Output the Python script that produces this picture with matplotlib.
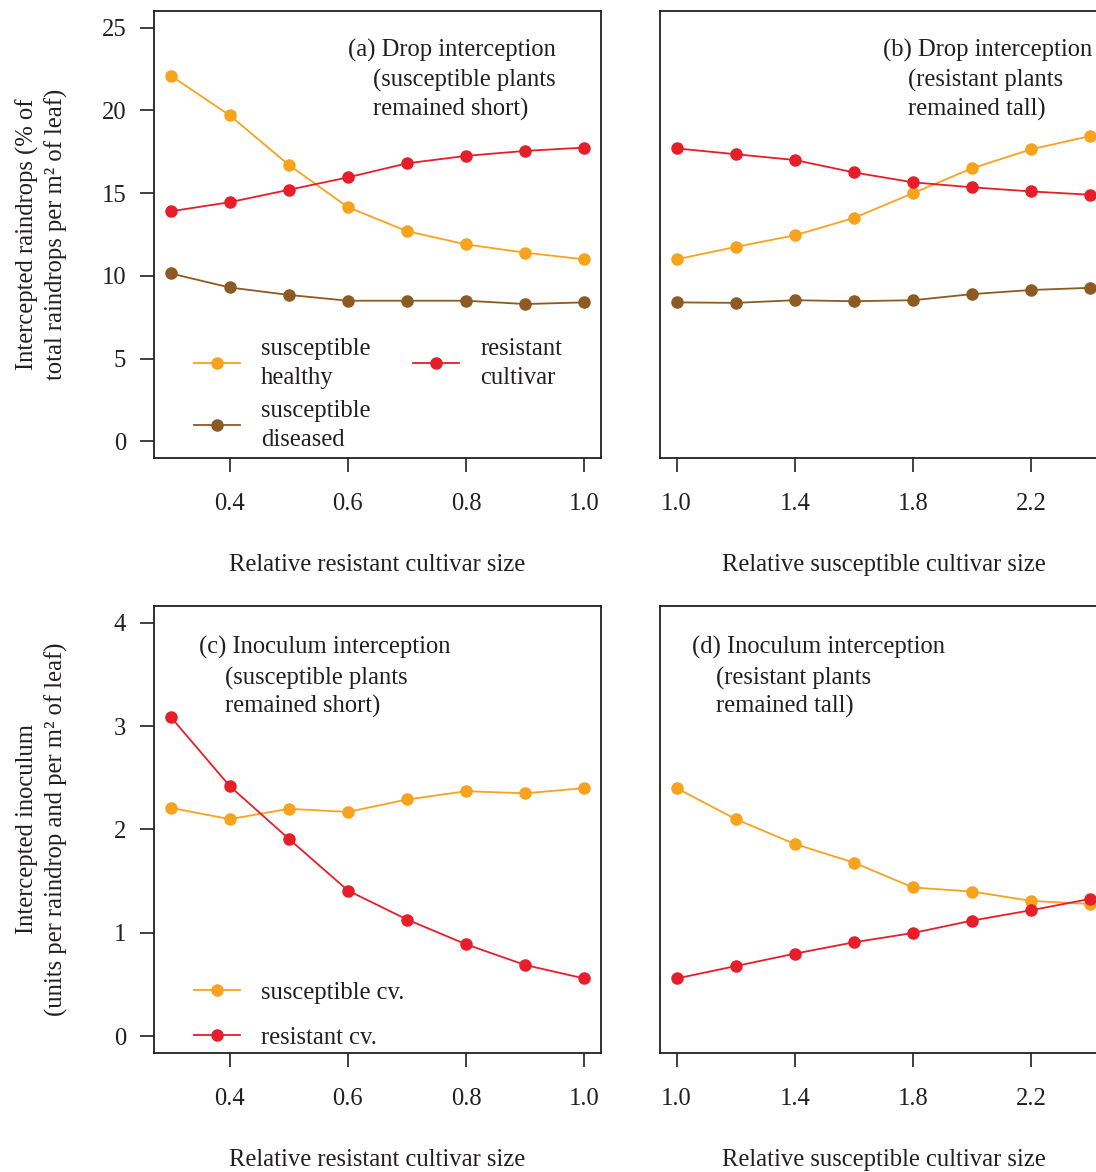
import matplotlib
matplotlib.use("Agg")
import matplotlib.pyplot as plt

plt.rcParams['font.family'] = ['Liberation Serif', 'DejaVu Serif']
FS = 17.7
plt.rcParams['font.size'] = FS
TXT = '#231f20'

# ---- data ----
x_res = [0.3, 0.4, 0.5, 0.6, 0.7, 0.8, 0.9, 1.0]
x_sus = [1.0, 1.2, 1.4, 1.6, 1.8, 2.0, 2.2, 2.4]

a_healthy = [22.1, 19.7, 16.7, 14.15, 12.7, 11.9, 11.4, 11.0]
a_resist = [13.9, 14.45, 15.2, 15.95, 16.8, 17.25, 17.55, 17.75]
a_diseased = [10.15, 9.3, 8.85, 8.5, 8.5, 8.5, 8.3, 8.4]

b_healthy = [11.0, 11.75, 12.45, 13.5, 15.0, 16.5, 17.65, 18.45]
b_resist = [17.7, 17.35, 17.0, 16.25, 15.65, 15.35, 15.1, 14.9]
b_diseased = [8.4, 8.37, 8.53, 8.47, 8.53, 8.9, 9.15, 9.28]

c_sus = [2.21, 2.10, 2.20, 2.17, 2.29, 2.37, 2.35, 2.40]
c_res = [3.09, 2.42, 1.91, 1.41, 1.13, 0.89, 0.69, 0.56]

d_sus = [2.40, 2.10, 1.86, 1.68, 1.44, 1.40, 1.31, 1.28]
d_res = [0.56, 0.68, 0.80, 0.91, 1.00, 1.12, 1.22, 1.33]

ticks_res = [0.4, 0.6, 0.8, 1.0]
ticks_sus = [1.0, 1.4, 1.8, 2.2]
yticks_top = [0, 5, 10, 15, 20, 25]
yticks_bot = [0, 1, 2, 3, 4]

C_OR = '#f8a31d'
C_RED = '#e61e2a'
C_BR = '#8c5a22'

W, H = 1096, 1172
fig = plt.figure(figsize=(W / 100, H / 100), dpi=100)


def add_ax(x0, y0, x1, y1):
    return fig.add_axes([x0 / W, 1 - y1 / H, (x1 - x0) / W, (y1 - y0) / H])


axa = add_ax(154, 11, 601, 458)
axb = add_ax(660, 11, 1107, 458)
axc = add_ax(154, 606, 601, 1053)
axd = add_ax(660, 606, 1107, 1053)

kw = dict(marker='o', markersize=8, lw=1.3)


def style(ax, xt, xlim, ylim, yt=None):
    ax.set_xlim(*xlim)
    ax.set_ylim(*ylim)
    ax.set_xticks(xt)
    ax.set_xticklabels([f'{v:.1f}' for v in xt])
    for s in ax.spines.values():
        s.set_linewidth(1.3)
        s.set_color(TXT)
    ax.tick_params(axis='x', length=10, width=1.2, pad=15, colors=TXT, labelsize=FS)
    if yt is not None:
        ax.set_yticks(yt)
        ax.set_yticklabels([str(v) for v in yt])
        ax.tick_params(axis='y', length=10, width=1.2, pad=10, colors=TXT, labelsize=FS)
    else:
        ax.set_yticks([])


# panel a
axa.plot(x_res, a_healthy, color=C_OR, label='susceptible\nhealthy', **kw)
axa.plot(x_res, a_diseased, color=C_BR, label='susceptible\ndiseased', **kw)
axa.plot(x_res, a_resist, color=C_RED, label='resistant\ncultivar', **kw)
style(axa, ticks_res, (0.272, 1.028), (-1, 26), yticks_top)

# panel b
axb.plot(x_sus, b_healthy, color=C_OR, **kw)
axb.plot(x_sus, b_diseased, color=C_BR, **kw)
axb.plot(x_sus, b_resist, color=C_RED, **kw)
style(axb, ticks_sus, (0.944, 2.456), (-1, 26))

# panel c
axc.plot(x_res, c_sus, color=C_OR, label='susceptible cv.', **kw)
axc.plot(x_res, c_res, color=C_RED, label='resistant cv.', **kw)
style(axc, ticks_res, (0.272, 1.028), (-0.16, 4.16), yticks_bot)

# panel d
axd.plot(x_sus, d_sus, color=C_OR, **kw)
axd.plot(x_sus, d_res, color=C_RED, **kw)
style(axd, ticks_sus, (0.944, 2.456), (-0.16, 4.16))


# annotations
def note(ax, x1, x2, ys, lines):
    ax.text(x1, ys[0], lines[0], transform=ax.transAxes, ha='left', va='center', color=TXT, fontsize=FS)
    ax.text(x2, ys[1], lines[1], transform=ax.transAxes, ha='left', va='center', color=TXT, fontsize=FS)
    ax.text(x2, ys[2], lines[2], transform=ax.transAxes, ha='left', va='center', color=TXT, fontsize=FS)


note(axa, 0.434, 0.490, (0.912, 0.845, 0.780),
     ['(a) Drop interception', '(susceptible plants', 'remained short)'])
note(axb, 0.499, 0.555, (0.912, 0.845, 0.780),
     ['(b) Drop interception', '(resistant plants', 'remained tall)'])
note(axc, 0.1007, 0.159, (0.907, 0.839, 0.775),
     ['(c) Inoculum interception', '(susceptible plants', 'remained short)'])
note(axd, 0.0716, 0.125, (0.907, 0.839, 0.775),
     ['(d) Inoculum interception', '(resistant plants', 'remained tall)'])

# axis labels
for ax, lab in [(axa, 'Relative resistant cultivar size'), (axb, 'Relative susceptible cultivar size'),
                (axc, 'Relative resistant cultivar size'), (axd, 'Relative susceptible cultivar size')]:
    ax.set_xlabel(lab, fontsize=FS, color=TXT, va='center')
    ax.xaxis.set_label_coords(0.5, -0.24)

axa.set_ylabel('Intercepted raindrops (% of\ntotal raindrops per m² of leaf)', fontsize=FS,
               color=TXT, va='center', linespacing=1.35)
axa.yaxis.set_label_coords(-0.251, 0.5)
axc.set_ylabel('Intercepted inoculum\n(units per raindrop and per m² of leaf)', fontsize=FS,
               color=TXT, va='center', linespacing=1.35)
axc.yaxis.set_label_coords(-0.251, 0.5)

# legends
la = axa.legend(ncol=2, loc='upper left', bbox_to_anchor=(0.0895, 0.268), frameon=False,
                borderpad=0, borderaxespad=0, handlelength=1.87, handletextpad=0.85,
                columnspacing=1.75, labelspacing=0.47, fontsize=FS)
lc = axc.legend(loc='upper left', bbox_to_anchor=(0.0895, 0.160), frameon=False,
                borderpad=0, borderaxespad=0, handlelength=1.87, handletextpad=0.85,
                labelspacing=0.93, fontsize=FS)
for lg in (la, lc):
    for t in lg.get_texts():
        t.set_color(TXT)
        t.set_linespacing(1.38)

fig.savefig('out.png', dpi=100)
